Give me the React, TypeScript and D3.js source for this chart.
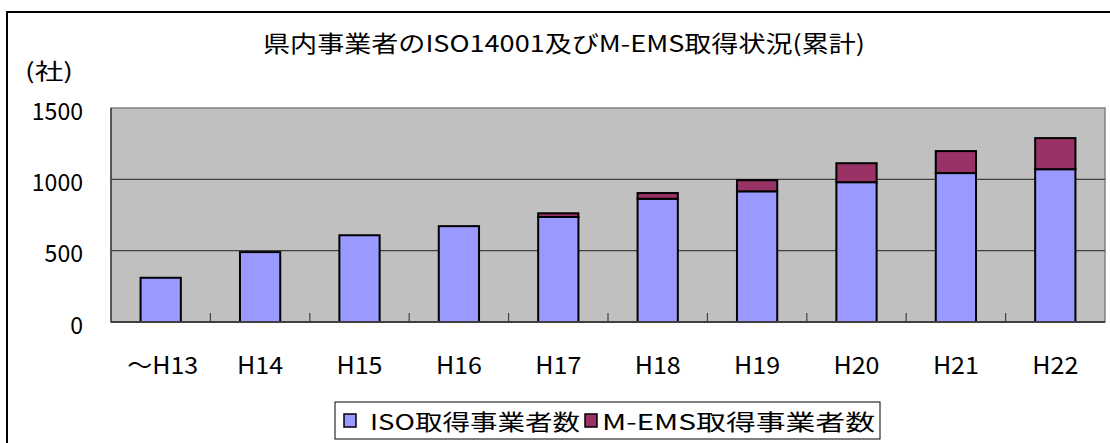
import React from 'react';
import * as d3 from 'd3';

const categories = ['～H13', 'H14', 'H15', 'H16', 'H17', 'H18', 'H19', 'H20', 'H21', 'H22'];
const isoValues = [310, 490, 608, 672, 736, 864, 916, 980, 1044, 1071];
const emsValues = [0, 0, 0, 0, 26, 40, 78, 133, 154, 218];
const yTicks = [0, 500, 1000, 1500];
const seriesNames = ['ISO取得事業者数', 'M-EMS取得事業者数'];
const seriesColors = ['#9999FF', '#993366'];

const W = 1110;
const H = 443;
const FONT = '"Noto Sans CJK JP", sans-serif';

// rough width of a label in the reference's stretched gothic font
const labelWidth = (s: string, digit: number) =>
  Array.from(s).reduce((w, ch) => w + (ch === '～' ? 25 : ch === 'H' ? 18 : digit), 0);

const App = () => {
  const plot = { left: 111, right: 1105, top: 108, bottom: 322 };

  const x = d3.scaleBand().domain(categories).range([plot.left, plot.right]).paddingInner(0.595).paddingOuter(0.2975);
  const y = d3.scaleLinear().domain([0, 1500]).range([plot.bottom, plot.top]);
  const step = x.step();

  return (
    <svg width={W} height={H} style={{ position: 'absolute', left: 0, top: 0, background: '#fff' }}>
      {/* outer frame */}
      <rect x={7} y={12} width={W + 20} height={H + 20} fill="#fff" stroke="#000" strokeWidth={2} />

      <text x={263} y={42} dominantBaseline="central" fontFamily={FONT} fontSize={23} fill="#000"
        textLength={602} lengthAdjust="spacingAndGlyphs">
        県内事業者のISO14001及びM-EMS取得状況(累計)
      </text>
      <text x={25} y={69} dominantBaseline="central" fontFamily={FONT} fontSize={22} fill="#000"
        textLength={48} lengthAdjust="spacingAndGlyphs">(社)</text>

      {/* plot area */}
      <rect x={plot.left} y={plot.top} width={plot.right - plot.left} height={plot.bottom - plot.top} fill="#C0C0C0" stroke="#808080" strokeWidth={1.5} />

      {yTicks.filter(t => t > 0 && t < 1500).map(t => (
        <line key={t} x1={plot.left} x2={plot.right} y1={y(t)} y2={y(t)} stroke="#404040" strokeWidth={1.2} />
      ))}

      {yTicks.map(t => (
        <text key={'yt' + t} x={83} y={y(t) + 1} textAnchor="end" dominantBaseline="central" fontFamily={FONT} fontSize={24} fill="#000"
          textLength={String(t).length * 12.8} lengthAdjust="spacingAndGlyphs">{t}</text>
      ))}

      <line x1={plot.left} x2={plot.left} y1={plot.top} y2={plot.bottom} stroke="#404040" strokeWidth={1.5} />

      {/* category ticks */}
      {categories.slice(1).map((c, i) => (
        <line key={'xt' + c} x1={plot.left + step * (i + 1)} x2={plot.left + step * (i + 1)} y1={plot.bottom} y2={plot.bottom - 9} stroke="#404040" strokeWidth={1.2} />
      ))}

      {categories.map((c, i) => {
        const iso = isoValues[i];
        const ems = emsValues[i];
        return (
          <g key={c}>
            <rect x={x(c)} y={y(iso)} width={x.bandwidth()} height={y(0) - y(iso)} fill={seriesColors[0]} stroke="#000" strokeWidth={2} />
            {ems > 0 && (
              <rect x={x(c)} y={y(iso + ems)} width={x.bandwidth()} height={y(iso) - y(iso + ems)} fill={seriesColors[1]} stroke="#000" strokeWidth={2} />
            )}
          </g>
        );
      })}

      <line x1={plot.left} x2={plot.right} y1={plot.bottom} y2={plot.bottom} stroke="#404040" strokeWidth={2} />

      {categories.map(c => (
        <text key={'xl' + c} x={(x(c) as number) + x.bandwidth() / 2 + (c.startsWith('～') ? 2 : 0)} y={363} textAnchor="middle" dominantBaseline="central"
          fontFamily={FONT} fontSize={24} fill="#000" textLength={labelWidth(c, 14)} lengthAdjust="spacingAndGlyphs">{c}</text>
      ))}

      {/* legend */}
      <rect x={335} y={402} width={545} height={37} fill="#fff" stroke="#000" strokeWidth={1} />
      <rect x={344} y={414} width={12} height={13} fill={seriesColors[0]} stroke="#000" strokeWidth={1.5} />
      <text x={370} y={420} dominantBaseline="central" fontFamily={FONT} fontSize={22} fill="#000"
        textLength={210} lengthAdjust="spacingAndGlyphs">{seriesNames[0]}</text>
      <rect x={585} y={414} width={12} height={13} fill={seriesColors[1]} stroke="#000" strokeWidth={1.5} />
      <text x={602} y={420} dominantBaseline="central" fontFamily={FONT} fontSize={22} fill="#000"
        textLength={273} lengthAdjust="spacingAndGlyphs">{seriesNames[1]}</text>
    </svg>
  );
};

export default App;
